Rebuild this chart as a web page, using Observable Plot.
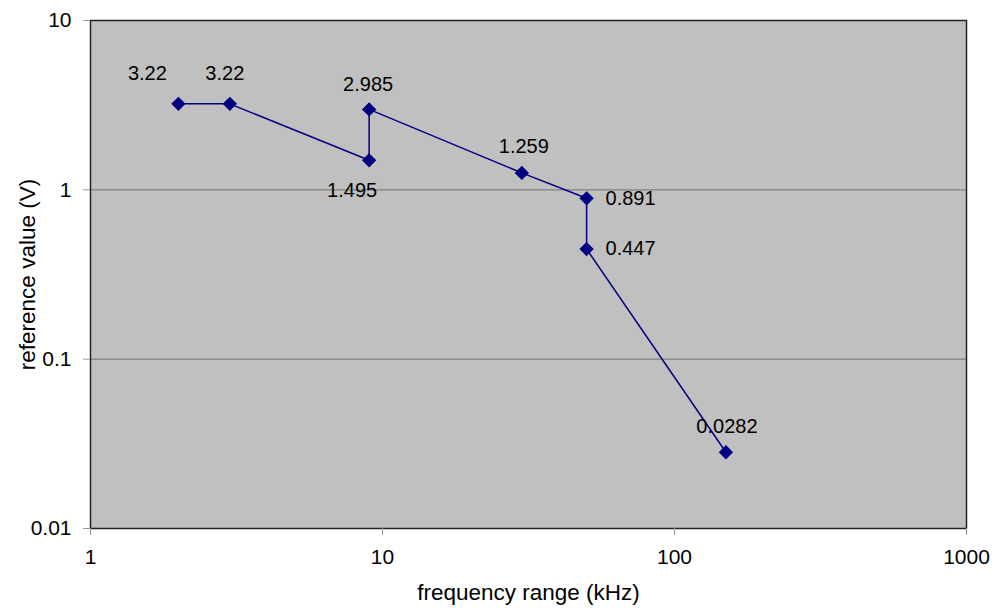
<!DOCTYPE html>
<html>
<head>
<meta charset="utf-8">
<script src="https://cdn.jsdelivr.net/npm/d3@7"></script>
<script src="https://cdn.jsdelivr.net/npm/@observablehq/plot@0.6"></script>
<style>
  html, body { margin: 0; padding: 0; background: #fff; }
  #chart { width: 1003px; height: 608px; }
</style>
</head>
<body>
<div id="chart"></div>
<script>
// Data
const freq = [2, 3, 9, 9, 30, 50, 50, 150];            // kHz
const refValue = [3.22, 3.22, 1.495, 2.985, 1.259, 0.891, 0.447, 0.0282]; // V
const valueLabels = ["3.22", "3.22", "1.495", "2.985", "1.259", "0.891", "0.447", "0.0282"];
const xTicks = [1, 10, 100, 1000];
const yTicks = [0.01, 0.1, 1, 10];
const yGrid = [0.1, 1];
const xTitle = "frequency range (kHz)";
const yTitle = "reference value (V)";

// label placement offsets (layout only)
const labelOffsets = [[-31, -30], [-5, -30], [-17, 30], [-1, -25], [2, -26], [44, 0], [44, 0], [1, -26]];

const data = freq.map((f, i) => ({f, v: refValue[i], label: valueLabels[i], dx: labelOffsets[i][0], dy: labelOffsets[i][1]}));

const font = "'Liberation Sans', Arial, Helvetica, sans-serif";

const chart = Plot.plot({
  width: 1003,
  height: 608,
  marginLeft: 90,
  marginRight: 37,
  marginTop: 20,
  marginBottom: 80,
  style: {fontFamily: font, background: "#fff", color: "#000"},
  x: {type: "log", domain: [1, 1000]},
  y: {type: "log", domain: [0.01, 10]},
  marks: [
    Plot.frame({fill: "#c0c0c0", stroke: null}),
    Plot.ruleY(yGrid, {stroke: "#808080", strokeWidth: 1.2}),
    Plot.frame({stroke: "#222", strokeWidth: 1.5}),
    Plot.axisX({ticks: xTicks, tickFormat: d => String(d), tickSize: 7, tickPadding: 14, fontSize: 21, stroke: "#999", label: null}),
    Plot.axisY({ticks: yTicks, tickFormat: d => String(d), tickSize: 7, tickPadding: 12, fontSize: 21, stroke: "#999", label: null}),
    Plot.line(data, {x: "f", y: "v", stroke: "#000080", strokeWidth: 1.5}),
    Plot.dot(data, {x: "f", y: "v", symbol: "diamond2", r: 5.5, fill: "#000080", stroke: "#000080"}),
    ...data.map(d => Plot.text([d], {x: "f", y: "v", text: "label", dx: d.dx, dy: d.dy, fontSize: 20, fill: "#000"})),
    Plot.text([xTitle], {frameAnchor: "bottom", dy: 64, lineAnchor: "middle", textAnchor: "middle", fontSize: 22.5, fill: "#000"}),
    Plot.text([yTitle], {frameAnchor: "left", dx: -63, rotate: -90, lineAnchor: "middle", textAnchor: "middle", fontSize: 22.5, fill: "#000"})
  ]
});
document.getElementById("chart").appendChild(chart);
</script>
</body>
</html>
